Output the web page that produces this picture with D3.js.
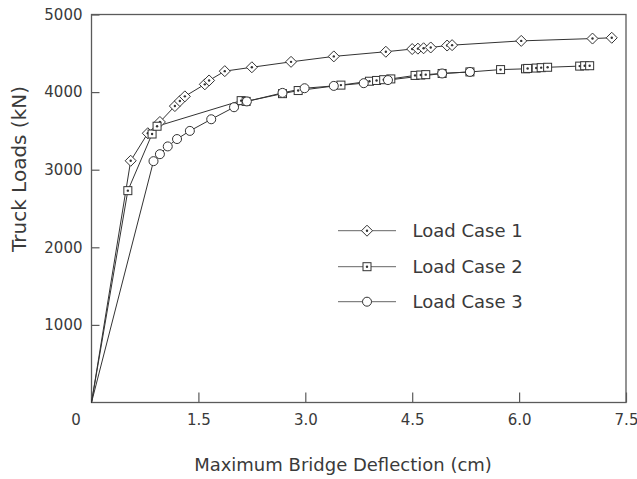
<!DOCTYPE html>
<html>
<head>
<meta charset="utf-8">
<script src="https://cdn.jsdelivr.net/npm/d3@7"></script>
<style>
  html, body { margin: 0; padding: 0; background: #fff; }
  svg { display: block; font-family: "DejaVu Sans", Verdana, sans-serif; }
</style>
</head>
<body>
<svg id="chart" width="637" height="479"></svg>
<script>
// ---- data (deflection cm, load kN) ----
const case1X = [0, 0.55, 0.79, 0.96, 1.17, 1.24, 1.31, 1.59, 1.65, 1.87, 2.25, 2.80, 3.40, 4.13, 4.50, 4.58, 4.66, 4.76, 4.99, 5.06, 6.03, 7.03, 7.30];
const case1Y = [0, 3115, 3470, 3615, 3820, 3885, 3945, 4100, 4150, 4270, 4320, 4390, 4460, 4520, 4555, 4560, 4565, 4575, 4600, 4605, 4660, 4690, 4700];
const case2X = [0, 0.51, 0.85, 0.92, 2.10, 2.17, 2.68, 2.90, 3.50, 3.90, 4.00, 4.10, 4.20, 4.54, 4.62, 4.69, 4.92, 5.31, 5.74, 6.09, 6.12, 6.24, 6.31, 6.40, 6.85, 6.92, 6.99];
const case2Y = [0, 2730, 3460, 3560, 3890, 3880, 3980, 4020, 4090, 4140, 4150, 4160, 4170, 4215, 4220, 4225, 4240, 4260, 4290, 4300, 4305, 4310, 4315, 4320, 4335, 4340, 4340];
const case3X = [0, 0.87, 0.96, 1.07, 1.20, 1.38, 1.68, 2.00, 2.18, 2.68, 2.99, 3.40, 3.82, 4.16, 4.92, 5.31];
const case3Y = [0, 3110, 3200, 3300, 3395, 3500, 3650, 3805, 3880, 3990, 4050, 4080, 4115, 4155, 4240, 4260];
const seriesNames = ["Load Case 1", "Load Case 2", "Load Case 3"];
const xTicks = [1.5, 3.0, 4.5, 6.0, 7.5];
const yTicks = [1000, 2000, 3000, 4000, 5000];
const xTitle = "Maximum Bridge Deflection (cm)";
const yTitle = "Truck Loads (kN)";

const svg = d3.select("#chart");
const W = 637, H = 479;
const m = { left: 91.5, right: 11, top: 14.5, bottom: 76.5 };
const x = d3.scaleLinear().domain([0, 7.5]).range([m.left, W - m.right]);
const y = d3.scaleLinear().domain([0, 5000]).range([H - m.bottom, m.top]);

const axisColor = "#5a5a5a";
const textColor = "#3a3a3a";
const lineColor = "#333";

// axes
const gy = svg.append("g").attr("transform", `translate(${m.left},0)`)
  .call(d3.axisLeft(y).tickValues(yTicks).tickSize(-8).tickPadding(9).tickFormat(d3.format("d")));
const gx = svg.append("g").attr("transform", `translate(0,${H - m.bottom})`)
  .call(d3.axisBottom(x).tickValues(xTicks).tickSize(-10).tickPadding(12).tickFormat(d3.format(".1f")));
[gy, gx].forEach(g => {
  g.select(".domain").remove();
  g.selectAll(".tick line").attr("stroke", axisColor).attr("stroke-width", 1.2);
  g.selectAll(".tick text").attr("fill", textColor).attr("font-size", 15)
    .attr("font-family", "DejaVu Sans, Verdana, sans-serif");
});
// frame
svg.append("rect").attr("x", x(0)).attr("y", y(5000))
  .attr("width", x(7.5) - x(0)).attr("height", y(0) - y(5000))
  .attr("fill", "none").attr("stroke", axisColor).attr("stroke-width", 1.3);

// origin label
svg.append("text").attr("x", 76).attr("y", 425).attr("text-anchor", "middle")
  .attr("font-size", 15).attr("fill", textColor).text("0");

// titles
svg.append("text").attr("x", 343).attr("y", 471).attr("text-anchor", "middle")
  .attr("font-size", 18).attr("fill", textColor).text(xTitle);
svg.append("text").attr("transform", "translate(26,169) rotate(-90)").attr("text-anchor", "middle")
  .attr("font-size", 20).attr("fill", textColor).text(yTitle);

// marker drawing
function marker(g, type) {
  if (type === 0) {
    g.append("path").attr("d", "M0,-5.5L5.5,0L0,5.5L-5.5,0Z")
      .attr("fill", "#fff").attr("stroke", lineColor).attr("stroke-width", 1);
    g.append("circle").attr("r", 1.2).attr("fill", lineColor);
  } else if (type === 1) {
    g.append("rect").attr("x", -4).attr("y", -4).attr("width", 8).attr("height", 8)
      .attr("fill", "#fff").attr("stroke", lineColor).attr("stroke-width", 1);
    g.append("circle").attr("r", 1.2).attr("fill", lineColor);
  } else {
    g.append("circle").attr("r", 4.5)
      .attr("fill", "#fff").attr("stroke", lineColor).attr("stroke-width", 1);
  }
}

const series = [
  { xs: case1X, ys: case1Y },
  { xs: case2X, ys: case2Y },
  { xs: case3X, ys: case3Y }
];
const line = d3.line().x(d => x(d[0])).y(d => y(d[1]));

series.forEach((s) => {
  const pts = s.xs.map((v, i) => [v, s.ys[i]]);
  svg.append("path").datum(pts).attr("d", line)
    .attr("fill", "none").attr("stroke", lineColor).attr("stroke-width", 1);
});
series.forEach((s, k) => {
  const pts = s.xs.map((v, i) => [v, s.ys[i]]).slice(1);
  pts.forEach(p => {
    const g = svg.append("g").attr("transform", `translate(${x(p[0])},${y(p[1])})`);
    marker(g, k);
  });
});

// legend
const legY = [230.7, 266.7, 301.7];
seriesNames.forEach((name, k) => {
  const g = svg.append("g").attr("transform", `translate(0,${legY[k]})`);
  g.append("line").attr("x1", 338).attr("x2", 396).attr("y1", 0).attr("y2", 0)
    .attr("stroke", "#666").attr("stroke-width", 1);
  const mg = g.append("g").attr("transform", "translate(367,0)");
  marker(mg, k);
  g.append("text").attr("x", 412.5).attr("y", 0).attr("dy", "0.36em")
    .attr("font-size", 18).attr("fill", textColor).text(name);
});
</script>
</body>
</html>
